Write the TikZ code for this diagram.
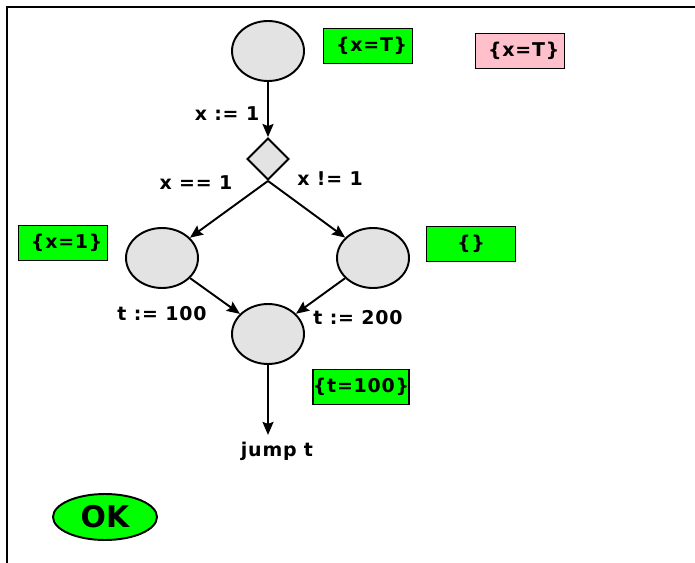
\documentclass[tikz,border=0pt]{standalone}
\usepackage{fontspec}
\setmainfont{DejaVu Sans}
\usetikzlibrary{shapes.geometric,arrows.meta}

\definecolor{stategray}{RGB}{227,227,227}
\definecolor{assertgreen}{RGB}{0,255,0}
\definecolor{assertpink}{RGB}{255,192,203}

\begin{document}
\begin{tikzpicture}[x=0.02cm, y=-0.02cm, >={Stealth[length=0.26cm, width=0.22cm, inset=0.04cm]}, line width=1.1pt,
        every node/.style={font=\fontsize{10.8}{12}\selectfont\bfseries\addfontfeature{LetterSpace=4}},
        state/.style={ellipse, draw, fill=stategray, minimum width=1.44cm, minimum height=1.2cm, inner sep=0pt},
        cond/.style={diamond, draw, fill=stategray, minimum width=0.84cm, minimum height=0.84cm, inner sep=0pt},
        assert/.style={rectangle, draw, fill=assertgreen, minimum width=1.78cm, minimum height=0.7cm, inner sep=0pt}]
        \useasboundingbox (0,0) rectangle (695,563);
        \draw (695,7) -- (7,7) -- (7,563);

        % states and the branch
        \node[state] (s0) at (268,51) {};
        \node[cond] (c0) at (268,159) {};
        \node[state] (s1) at (162,258) {};
        \node[state] (s2) at (373,258) {};
        \node[state] (s3) at (268,334) {};
        \node (jump) at (277,451) {jump t};

        % assertions
        \node[assert] (a0) at (368,46) {\ \{x=T\}};
        \node[assert, fill=assertpink] (p0) at (520,51) {\ \{x=T\}};
        \node[assert] (a1) at (63,243) {\ \{x=1\}};
        \node[assert] (a2) at (471,244) {\{\}};
        \node[assert, minimum width=1.84cm] (a3) at (361,387) {\{t=100\}};

        % transitions
        \draw[->] (s0) -- (c0);
        \draw[->] (c0.south) -- (s1);
        \draw[->] (c0.south) -- (s2);
        \draw[->] (s1) -- (s3);
        \draw[->] (s2) -- (s3);
        \draw[->] (s3) -- (s3 |- jump.north);

        \node (l0) at (227,114) {x := 1};
        \node (l1) at (196,183) {x == 1};
        \node (l2) at (330,179) {x != 1};
        \node (l3) at (162,314) {t := 100};
        \node (l4) at (358,318) {t := 200};

        \node[ellipse, draw, fill=assertgreen, minimum width=2.08cm, minimum height=0.92cm, inner sep=0pt,
            font=\fontsize{17}{20}\selectfont\bfseries] (ok) at (105,517) {OK};
\end{tikzpicture}
\end{document}
